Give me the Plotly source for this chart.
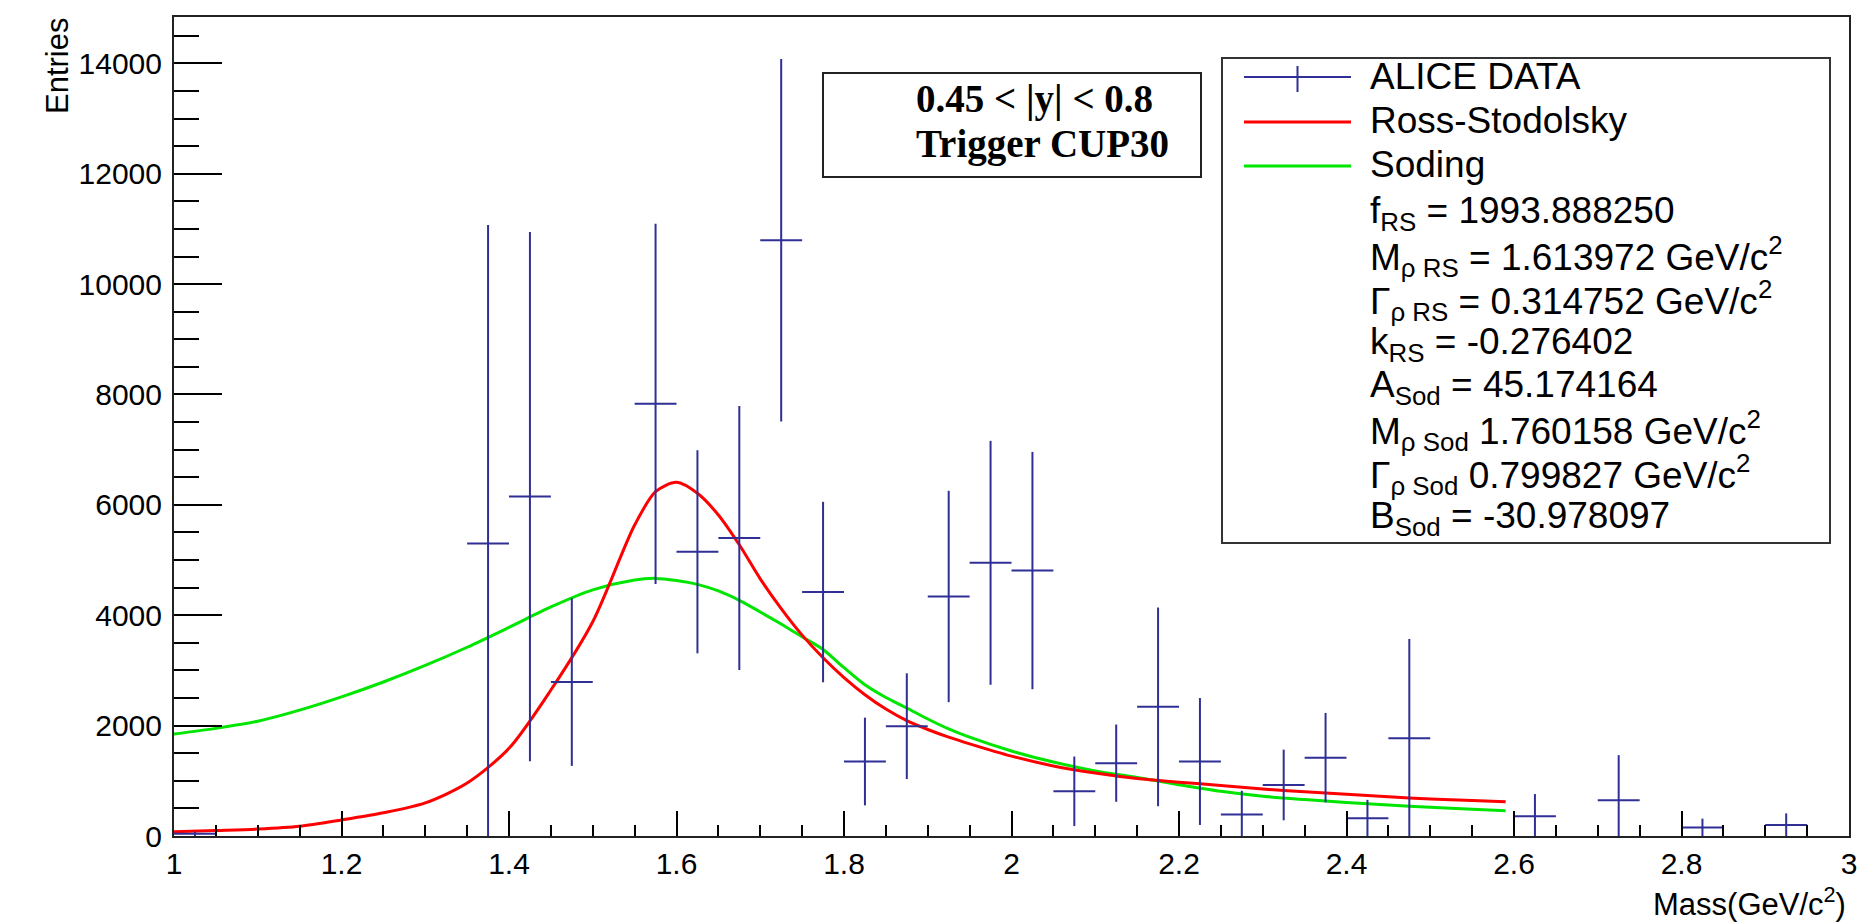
import plotly.graph_objects as go

# ---------------- data ----------------
mass = [1.025, 1.375, 1.425, 1.475, 1.575, 1.625, 1.675, 1.725, 1.775, 1.825,
        1.875, 1.925, 1.975, 2.025, 2.075, 2.125, 2.175, 2.225, 2.275, 2.325,
        2.375, 2.425, 2.475, 2.625, 2.725, 2.825, 2.925]
entries = [40, 5300, 6150, 2790, 7830, 5150, 5400, 10795, 4420, 1350,
           1990, 4340, 4950, 4810, 810, 1320, 2340, 1350, 390, 925,
           1420, 320, 1770, 360, 650, 155, 200]
entry_err = [40, 5770, 4795, 1520, 3265, 1840, 2390, 3285, 1635, 795,
             958, 1915, 2210, 2150, 630, 700, 1800, 1150, 430, 640,
             810, 335, 1800, 400, 815, 160, 210]
bin_half_width = [0.025] * len(mass)

fit_x = [1.0, 1.05, 1.1, 1.15, 1.2, 1.25, 1.3, 1.35, 1.4, 1.45, 1.5, 1.55,
         1.575, 1.6, 1.625, 1.65, 1.675, 1.7, 1.725, 1.75, 1.775, 1.8, 1.825,
         1.85, 1.875, 1.9, 1.925, 1.95, 2.0, 2.05, 2.1, 2.15, 2.2, 2.25, 2.3,
         2.35, 2.4, 2.45, 2.5, 2.55, 2.59]
ross_stodolsky = [78, 100, 125, 175, 290, 420, 600, 960, 1589, 2645, 3882, 5634,
                  6238, 6408, 6210, 5817, 5277, 4660, 4120, 3640, 3230, 2870, 2560,
                  2300, 2090, 1930, 1791, 1670, 1447, 1270, 1140, 1040, 975, 915, 850,
                  800, 755, 710, 672, 642, 622]
soding = [1848, 1950, 2080, 2280, 2520, 2790, 3090, 3420, 3780, 4150, 4460, 4640,
          4668, 4630, 4560, 4440, 4270, 4060, 3840, 3610, 3380, 3050, 2740,
          2510, 2320, 2120, 1940, 1790, 1540, 1340, 1180, 1060, 930, 810, 720,
          660, 608, 560, 520, 485, 458]

x_ticks = [1.0, 1.2, 1.4, 1.6, 1.8, 2.0, 2.2, 2.4, 2.6, 2.8, 3.0]
y_ticks = [0, 2000, 4000, 6000, 8000, 10000, 12000, 14000]

legend_entries = ["ALICE DATA", "Ross-Stodolsky", "Soding"]
fit_params = [
    "f<sub>RS</sub> = 1993.888250",
    "M<sub>\u03c1 RS</sub> = 1.613972 GeV/c<sup>2</sup>",
    "\u0393<sub>\u03c1 RS</sub> = 0.314752 GeV/c<sup>2</sup>",
    "k<sub>RS</sub> = -0.276402",
    "A<sub>Sod</sub> = 45.174164",
    "M<sub>\u03c1 Sod</sub> 1.760158 GeV/c<sup>2</sup>",
    "\u0393<sub>\u03c1 Sod</sub> 0.799827 GeV/c<sup>2</sup>",
    "B<sub>Sod</sub> = -30.978097",
]
box_lines = ["0.45 &lt; |y| &lt; 0.8", "Trigger CUP30"]

DATA_COLOR = "#2f2f96"
RED = "#ff0000"
GREEN = "#00e600"
SANS = "Liberation Sans, Arial, sans-serif"
SERIF = "Liberation Serif, Times New Roman, serif"

# ---------------- geometry (pixels) ----------------
W, H = 1859, 922
L, R, T, B = 174, 10, 17, 86
PW, PH = W - L - R, H - T - B


def px(xp):
    return (xp - L) / PW


def py(yp):
    return (H - B - yp) / PH


fig = go.Figure()

fig.add_trace(go.Scatter(
    x=fit_x, y=soding, mode="lines", name="Soding",
    line=dict(color=GREEN, width=3, shape="spline", smoothing=0.8), showlegend=False))
fig.add_trace(go.Scatter(
    x=fit_x, y=ross_stodolsky, mode="lines", name="Ross-Stodolsky",
    line=dict(color=RED, width=3, shape="spline", smoothing=0.8), showlegend=False))
fig.add_trace(go.Scatter(
    x=mass, y=entries, mode="markers", name="ALICE DATA",
    marker=dict(size=1, color=DATA_COLOR),
    error_x=dict(type="data", array=bin_half_width, color=DATA_COLOR, thickness=2, width=0),
    error_y=dict(type="data", array=entry_err, color=DATA_COLOR, thickness=2, width=0),
    showlegend=False))

shapes = []
annotations = []

# text box with rapidity / trigger
shapes.append(dict(type="rect", xref="paper", yref="paper",
                   x0=px(823), x1=px(1201), y0=py(177), y1=py(73),
                   line=dict(color="#222222", width=2), fillcolor="white", layer="above"))
for i, t in enumerate(box_lines):
    annotations.append(dict(xref="paper", yref="paper", x=px(914), y=py(99 + 45 * i),
                            xanchor="left", yanchor="middle", showarrow=False,
                            text="<b>" + t + "</b>",
                            font=dict(family=SERIF, size=39, color="black")))

# legend box
shapes.append(dict(type="rect", xref="paper", yref="paper",
                   x0=px(1222), x1=px(1830), y0=py(543), y1=py(58),
                   line=dict(color="#333333", width=2), fillcolor="white", layer="above"))
# legend samples
shapes.append(dict(type="line", xref="paper", yref="paper", x0=px(1244), x1=px(1351),
                   y0=py(77), y1=py(77), line=dict(color=DATA_COLOR, width=2), layer="above"))
shapes.append(dict(type="line", xref="paper", yref="paper", x0=px(1297.5), x1=px(1297.5),
                   y0=py(92), y1=py(66), line=dict(color=DATA_COLOR, width=2), layer="above"))
shapes.append(dict(type="line", xref="paper", yref="paper", x0=px(1244), x1=px(1351),
                   y0=py(122), y1=py(122), line=dict(color=RED, width=3), layer="above"))
shapes.append(dict(type="line", xref="paper", yref="paper", x0=px(1244), x1=px(1351),
                   y0=py(166), y1=py(166), line=dict(color=GREEN, width=3), layer="above"))

legend_lines = legend_entries + fit_params
for i, t in enumerate(legend_lines):
    yc = 77 + 43.6 * i
    if "<sub>" in t:
        yc += 5
    annotations.append(dict(xref="paper", yref="paper", x=px(1368), y=py(yc),
                            xanchor="left", yanchor="middle", showarrow=False, text=t,
                            font=dict(family=SANS, size=37, color="black")))

# axis titles
annotations.append(dict(xref="paper", yref="paper", x=px(57), y=py(66),
                        xanchor="center", yanchor="middle", textangle=-90, showarrow=False,
                        text="Entries", font=dict(family=SANS, size=31, color="black")))
annotations.append(dict(xref="paper", yref="paper", x=px(1848), y=py(902),
                        xanchor="right", yanchor="middle", showarrow=False,
                        text="Mass(GeV/c<sup>2</sup>)", font=dict(family=SANS, size=31, color="black")))

fig.update_layout(
    width=W, height=H,
    margin=dict(l=L, r=R, t=T, b=B, autoexpand=False),
    paper_bgcolor="white", plot_bgcolor="white",
    shapes=shapes, annotations=annotations,
    showlegend=False,
)
fig.update_xaxes(
    range=[1, 3], tickvals=x_ticks, ticktext=[("%g" % v) for v in x_ticks],
    ticks="inside", ticklen=25, tickwidth=2, tickcolor="black",
    minor=dict(ticks="inside", dtick=0.05, ticklen=11, tickwidth=2, tickcolor="black"),
    showline=True, linecolor="#222222", linewidth=2, mirror=True,
    showgrid=False, zeroline=False,
    tickfont=dict(family=SANS, size=30, color="black"),
)
fig.update_yaxes(
    range=[0, 14840], tickvals=y_ticks, ticktext=[str(v) for v in y_ticks],
    ticks="inside", ticklen=48, tickwidth=2, tickcolor="black",
    minor=dict(ticks="inside", dtick=500, ticklen=25, tickwidth=2, tickcolor="black"),
    showline=True, linecolor="#222222", linewidth=2, mirror=True,
    showgrid=False, zeroline=False, ticklabelstandoff=4,
    tickfont=dict(family=SANS, size=30, color="black"),
)

fig.write_html(
    "out.html",
    config={"displayModeBar": False},
    post_script="document.body.style.margin='0px';document.body.style.overflow='hidden';",
)
